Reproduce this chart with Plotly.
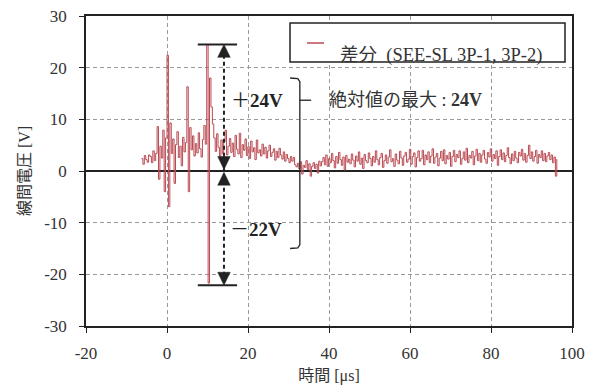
import plotly.graph_objects as go

# ---- data ----
T0_US = -6.3          # first sample time [us]
DT_US = 0.35          # sample spacing [us]
voltage_v = [
    2.4, 1.3, 3.0, 2.2, 1.7, 3.1, 2.8, 1.6, 3.9, 2.0, 3.4, 8.6, -1.6, 4.8, 2.5, 7.9, -4.0, 6.4,
    22.4, -6.9, 9.3,
    3.4, 6.2, -2.4, 5.1, 7.6, 2.6, 4.8, 1.0, 6.5, 3.7, 5.5,
    16.3, -4.0, 8.4,
    4.1, 6.8, 2.9, 5.3, 3.5, 7.4, 4.3, 2.7, 6.1, 8.8, 5.2,
    24.5, -21.7, 18.0, 12.4, 9.1,
    6.4, 3.8, 7.2, 4.6, 2.9, 6.0, 3.4, 5.7, 7.9, 3.1, 4.8, 6.3,
    3.6, 5.4, 2.8, 6.9, 4.2, 3.3, 7.3, 2.6, 5.1, 4.0, 6.2, 3.0, 4.7, 2.4, 5.8, 3.7, 4.5, 2.2, 6.0, 3.5, 4.1, 2.9, 5.2,
    3.3, 4.6, 2.5, 3.9, 5.0, 2.8, 3.6, 4.3, 2.1, 3.8, 2.6, 4.4, 3.1, 2.3, 3.7, 1.9, 3.2, 2.4, 1.6, 2.8,
    1.9, 2.6, 1.2, 0.8, 1.5, 0.4, 1.8, -0.6, 1.1, 0.7, 2.0, 0.3, 1.4, -1.0, 0.9, 1.6, 0.5, 1.3, -0.4, 1.9, 1.0,
    1.8, 2.6, 1.2, 3.1, 0.9, 2.4, 1.6, 3.4, 2.0, 0.6, 2.8, 1.5, 3.6, 2.2, 1.1, 2.7, 0.2, 3.0, 1.7, 2.3,
    1.4, 3.3, 2.1, 0.8, 2.9, 1.9, 3.7, 1.3, 2.5, 0.5, 3.2, 2.0, 1.6, 3.5, 2.4, 1.0, 2.8, 1.7, 3.9, 2.2,
    1.2, 2.6, 3.4, 0.7, 2.0, 3.1, 1.5, 2.7, 4.1, 1.8, 2.4, 0.9, 3.3, 2.1, 1.4, 3.8, 2.5, 1.1, 2.9, 3.6,
    1.7, 2.3, 4.2, 1.3, 2.8, 3.5, 0.8, 2.6, 3.9, 1.9, 2.4, 4.0, 1.2, 3.1, 2.2, 3.7, 1.6, 2.9, 4.3, 1.5,
    2.7, 3.4, 1.0, 2.5, 3.8, 2.0, 4.1, 1.4, 3.0, 2.3, 3.6, 0.9, 2.8, 4.0, 1.8, 3.2, 2.6, 3.9, 1.3, 2.4,
    3.7, 2.1, 4.4, 1.6, 3.0, 2.5, 3.8, 1.2, 2.9, 4.2, 2.0, 3.4, 1.7, 3.1, 4.0, 2.3, 1.5, 3.6, 2.7, 4.3,
    1.9, 3.2, 2.4, 3.9, 1.1, 2.8, 4.1, 2.2, 3.5, 1.8, 3.0, 4.5, 2.6, 1.4, 3.3, 2.0, 3.8, 2.5, 1.6, 3.6,
    2.9, 4.2, 2.1, 3.4, 1.7, 3.0, 5.0, 2.4, 3.7, 1.9, 2.8, 4.0, 1.5, 3.2, 2.6, 3.9, 2.0, 3.4, 1.8, 2.9,
    3.6, 2.2, 3.1, 1.6, 2.7, -1.0, 2.3,
]
time_us = [round(T0_US + i * DT_US, 3) for i in range(len(voltage_v))]

series_name = "差分  (SEE-SL 3P-1, 3P-2)"
x_ticks = [-20, 0, 20, 40, 60, 80, 100]
y_ticks = [-30, -20, -10, 0, 10, 20, 30]
v_max = 24.5     # positive peak [V]
v_min = -22.1    # negative peak [V]
x_arrow = 14.07  # position of the measuring arrow [us]

RED = "#BA4A52"
INK = "#222222"
FONT = "Liberation Serif, Noto Sans CJK JP, serif"

fig = go.Figure()
fig.add_trace(go.Scatter(x=time_us, y=voltage_v, mode="lines", name=series_name,
                         line=dict(color=RED, width=1, shape="hv"), showlegend=False))

shapes = []
# measuring caps
for yv in (v_max, v_min):
    shapes.append(dict(type="line", xref="x", yref="y", x0=7.6, x1=17.3, y0=yv, y1=yv,
                       line=dict(color=INK, width=2)))
# dashed arrow shaft
shapes.append(dict(type="line", xref="x", yref="y", x0=x_arrow, x1=x_arrow, y0=v_max - 2, y1=v_min + 2,
                   line=dict(color=INK, width=2, dash="4px,3px")))
# arrow heads (triangles)
hw = 1.55
hh = 2.5
def tri(tip_y, direction):
    base = tip_y - hh if direction == "up" else tip_y + hh
    return dict(type="path", xref="x", yref="y",
                path=f"M {x_arrow} {tip_y} L {x_arrow - hw} {base} L {x_arrow + hw} {base} Z",
                fillcolor=INK, line=dict(color=INK, width=0.5))
shapes += [tri(v_max, "up"), tri(0.3, "down"), tri(-0.25, "up"), tri(v_min, "down")]
# brace
shapes.append(dict(type="path", xref="x", yref="y",
                   path="M 30.4 18.0 L 32.3 17.9 L 32.8 17.3 L 32.8 -14.3 L 32.3 -14.9 L 30.4 -15.0",
                   line=dict(color=INK, width=1.3)))
shapes.append(dict(type="line", xref="x", yref="y", x0=32.8, x1=35.6, y0=13.7, y1=13.7,
                   line=dict(color=INK, width=1.3)))
# legend box (manual)
shapes.append(dict(type="rect", xref="paper", yref="paper", x0=0.4198, x1=0.9856, y0=0.8516, y1=0.9774,
                   fillcolor="white", line=dict(color=INK, width=1.5), layer="above"))
shapes.append(dict(type="line", xref="paper", yref="paper", x0=0.4547, x1=0.4897, y0=0.9129, y1=0.9129,
                   line=dict(color=RED, width=1.5), layer="above"))

annotations = [
    dict(x=22.2, y=13.7, xref="x", yref="y", text="＋<b>24V</b>", showarrow=False,
         font=dict(family=FONT, size=19, color=INK)),
    dict(x=22.0, y=-11.4, xref="x", yref="y", text="－<b>22V</b>", showarrow=False,
         font=dict(family=FONT, size=19, color=INK)),
    dict(x=39.6, y=13.7, xref="x", yref="y", xanchor="left", text="絶対値の最大 : <b>24V</b>",
         showarrow=False, font=dict(family=FONT, size=18, color="#333333")),
    dict(x=0.5195, y=0.9129, xref="paper", yref="paper", xanchor="left", text=series_name,
         showarrow=False, font=dict(family=FONT, size=18.5, color="#333333")),
]

fig.update_layout(
    width=591, height=391,
    margin=dict(l=86, r=19, t=16, b=65),
    paper_bgcolor="white", plot_bgcolor="white",
    showlegend=False,
    shapes=shapes, annotations=annotations,
    font=dict(family=FONT, size=17, color="#333333"),
    xaxis=dict(range=[-20, 100], tickvals=x_ticks, ticktext=[str(v) for v in x_ticks],
               showgrid=True, gridcolor="#9a9a9a", griddash="4px,3px", gridwidth=1,
               showline=True, linecolor=INK, linewidth=1.5, mirror=True,
               ticks="outside", ticklen=5, tickcolor=INK, ticklabelstandoff=6,
               ticklabeloverflow="allow",
               zeroline=False, automargin=False,
               title=dict(text="時間 [μs]", font=dict(family=FONT, size=16, color="#333333"), standoff=8)),
    yaxis=dict(range=[-30, 30], tickvals=y_ticks, ticktext=[str(v) for v in y_ticks],
               showgrid=True, gridcolor="#9a9a9a", griddash="4px,3px", gridwidth=1,
               showline=True, linecolor=INK, linewidth=1.5, mirror=True,
               ticks="outside", ticklen=5, tickcolor=INK, ticklabelstandoff=9,
               ticklabeloverflow="allow",
               zeroline=True, zerolinecolor=INK, zerolinewidth=2, automargin=False,
               title=dict(text="線間電圧 [V]", font=dict(family=FONT, size=16, color="#333333"), standoff=10)),
)

# remove the browser's default 8px body margin so the figure fills the window exactly
fig.write_html("out.html", config={"displayModeBar": False},
               post_script="document.body.style.margin='0';")
